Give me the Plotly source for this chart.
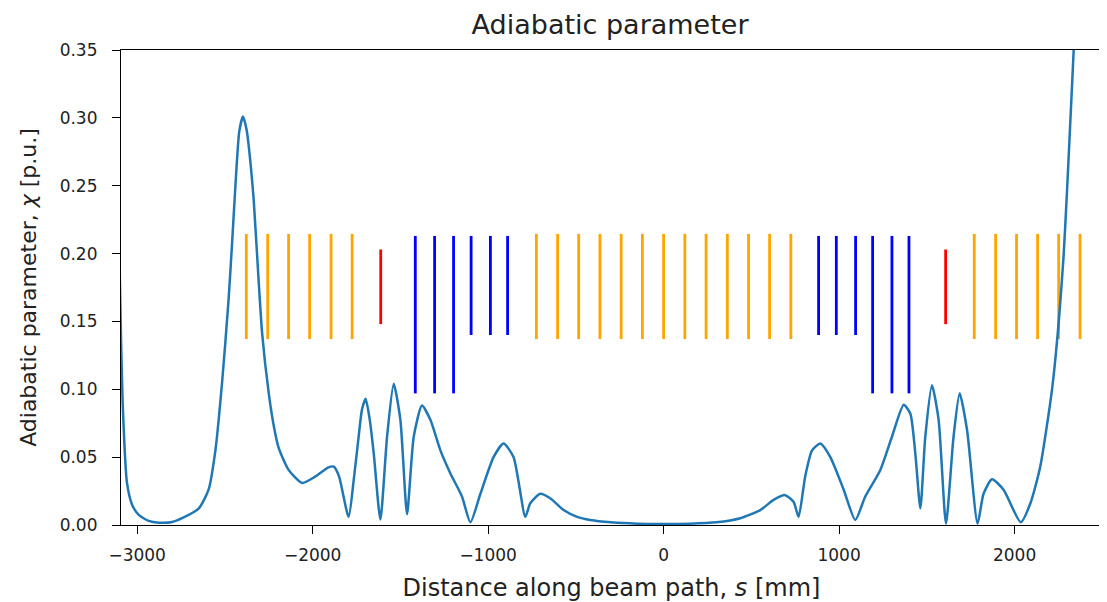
import plotly.graph_objects as go

# Adiabatic parameter curve
s_mm = [-3100, -3091, -3083, -3071, -3058, -3029, -2991, -2934, -2877, -2800, -2744, -2650,
        -2593, -2554, -2516, -2479, -2458, -2440, -2418, -2397, -2376, -2355, -2336,
        -2310, -2288, -2250, -2220, -2194, -2137, -2060, -1985, -1910, -1880, -1850, -1795,
        -1766, -1738, -1719, -1698, -1675, -1652, -1614, -1576, -1538, -1500, -1462,
        -1424, -1377, -1329, -1272, -1215, -1149, -1101, -1044, -969, -912, -855, -788,
        -760, -703, -646, -570, -493, -418, -300, -150, 0, 150, 300, 437, 551, 627, 693,
        741, 769, 807, 846, 893, 950, 1026, 1092, 1149, 1235, 1301, 1368, 1406, 1434,
        1463, 1491, 1529, 1567, 1609, 1652, 1687, 1729, 1789, 1823, 1871, 1937, 2035,
        2090, 2146, 2213, 2251, 2279, 2299, 2317, 2336, 2360]
chi = [0.19, 0.132, 0.092, 0.055, 0.031, 0.015, 0.0074, 0.003, 0.0017, 0.0022, 0.005, 0.012,
       0.026, 0.055, 0.105, 0.166, 0.21, 0.25, 0.290, 0.301, 0.291, 0.268, 0.24,
       0.185, 0.1415, 0.097, 0.072, 0.057, 0.0406, 0.031, 0.0357, 0.0425, 0.043, 0.036,
       0.006, 0.033, 0.065, 0.085, 0.093, 0.078, 0.053, 0.004, 0.065, 0.104, 0.0775,
       0.008, 0.065, 0.088, 0.0775, 0.055, 0.038, 0.021, 0.002, 0.023, 0.050, 0.060,
       0.050, 0.006, 0.016, 0.023, 0.0197, 0.011, 0.006, 0.0037, 0.002, 0.001, 0.0008,
       0.001, 0.002, 0.005, 0.011, 0.0185, 0.022, 0.017, 0.006, 0.036, 0.055, 0.060,
       0.050, 0.026, 0.0037, 0.021, 0.0406, 0.065, 0.0886, 0.082, 0.053, 0.0123, 0.065,
       0.103, 0.0775, 0.001, 0.065, 0.097, 0.070, 0.001, 0.023, 0.0337, 0.026, 0.002,
       0.016, 0.043, 0.0996, 0.149, 0.198, 0.247, 0.296, 0.348, 0.42]

# Element markers (positions in mm, vertical extents in chi units)
orange_s = [-2378, -2256, -2137, -2017, -1895, -1775, -725, -604, -484, -363, -242, -121,
            0, 121, 242, 363, 484, 604, 725, 1770, 1892, 2011, 2131, 2251, 2373]
orange_lo, orange_hi = 0.137, 0.2145
blue_long_s = [-1415, -1305, -1197, 1191, 1301, 1398]
blue_long_lo, blue_long_hi = 0.097, 0.213
blue_short_s = [-1097, -987, -889, 883, 984, 1094]
blue_short_lo, blue_short_hi = 0.140, 0.213
red_s = [-1612, 1607]
red_lo, red_hi = 0.148, 0.203

x_ticks = [-3000, -2000, -1000, 0, 1000, 2000]
x_ticktext = ["\u22123000", "\u22122000", "\u22121000", "0", "1000", "2000"]
y_ticks = [0, 0.05, 0.1, 0.15, 0.2, 0.25, 0.3, 0.35]


def segs(xs, lo, hi):
    X, Y = [], []
    for x in xs:
        X += [x, x, None]
        Y += [lo, hi, None]
    return X, Y


fig = go.Figure()
for xs, lo, hi, col in [(orange_s, orange_lo, orange_hi, "#FFA500"),
                        (blue_long_s, blue_long_lo, blue_long_hi, "#0000FF"),
                        (blue_short_s, blue_short_lo, blue_short_hi, "#0000FF"),
                        (red_s, red_lo, red_hi, "#FF0000")]:
    X, Y = segs(xs, lo, hi)
    fig.add_trace(go.Scatter(x=X, y=Y, mode="lines", line=dict(color=col, width=2.8),
                             hoverinfo="skip", showlegend=False))

fig.add_trace(go.Scatter(x=s_mm, y=chi, mode="lines",
                         line=dict(color="#1f77b4", width=2.5, shape="spline", smoothing=0.6),
                         showlegend=False))

font = "DejaVu Sans"
axcommon = dict(showline=True, linecolor="black", linewidth=1.2, mirror=True,
                ticks="outside", ticklen=8, tickwidth=1.2, tickcolor="black",
                showgrid=False, zeroline=False, automargin=False,
                tickfont=dict(family=font, size=17, color="#222"))
# page body has an 8px default margin, so the figure is sized to fit inside it
fig.update_layout(
    width=1099, height=594,
    margin=dict(l=113, r=5, t=42, b=77, autoexpand=False),
    paper_bgcolor="white", plot_bgcolor="white",
    title=dict(text="Adiabatic parameter", x=0.5478, xanchor="center",
               y=0.988, yref="container", yanchor="top", automargin=False,
               font=dict(family=font, size=27, color="#222")),
    xaxis=dict(range=[-3092, 2498], tickvals=x_ticks, ticktext=x_ticktext,
               ticklabelstandoff=6,
               title=dict(text="Distance along beam path, <i>s</i> [mm]", standoff=16,
                          font=dict(family=font, size=24, color="#222")),
               **axcommon),
    yaxis=dict(range=[0, 0.35], tickvals=y_ticks, tickformat=".2f",
               ticklabelstandoff=11,
               title=dict(text="Adiabatic parameter, <i>\u03c7</i> [p.u.]", standoff=16,
                          font=dict(family=font, size=22, color="#222")),
               **axcommon),
)

fig.write_html("out.html")
